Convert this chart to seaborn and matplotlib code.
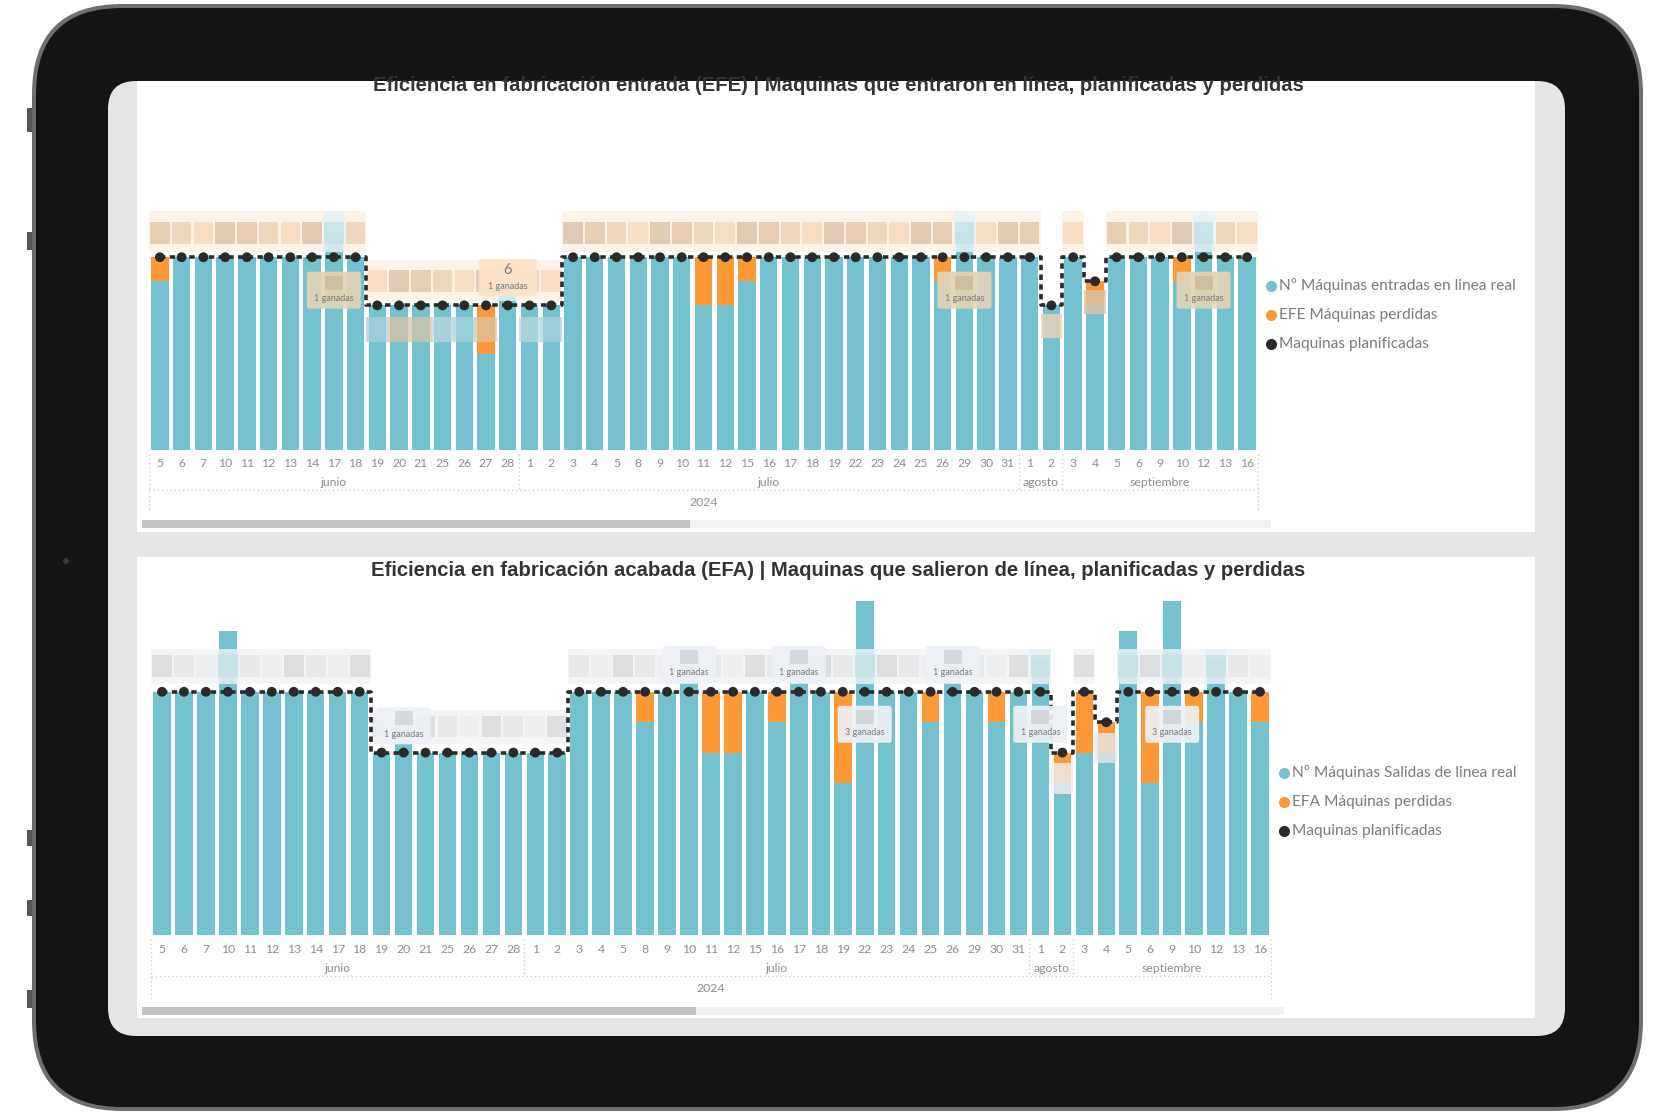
import numpy as np
import pandas as pd
import matplotlib
matplotlib.use("Agg")
import matplotlib.pyplot as plt
import seaborn as sns
from matplotlib.patches import FancyBboxPatch, Rectangle, Circle
from matplotlib.lines import Line2D
from matplotlib import transforms

# Datos
fechas = ["2024-06-05", "2024-06-06", "2024-06-07", "2024-06-10", "2024-06-11", "2024-06-12",
          "2024-06-13", "2024-06-14", "2024-06-17", "2024-06-18", "2024-06-19", "2024-06-20",
          "2024-06-21", "2024-06-25", "2024-06-26", "2024-06-27", "2024-06-28",
          "2024-07-01", "2024-07-02", "2024-07-03", "2024-07-04", "2024-07-05", "2024-07-08",
          "2024-07-09", "2024-07-10", "2024-07-11", "2024-07-12", "2024-07-15", "2024-07-16",
          "2024-07-17", "2024-07-18", "2024-07-19", "2024-07-22", "2024-07-23", "2024-07-24",
          "2024-07-25", "2024-07-26", "2024-07-29", "2024-07-30", "2024-07-31",
          "2024-08-01", "2024-08-02",
          "2024-09-03", "2024-09-04", "2024-09-05", "2024-09-06", "2024-09-09", "2024-09-10",
          "2024-09-12", "2024-09-13", "2024-09-16"]
meses_es = {6: "junio", 7: "julio", 8: "agosto", 9: "septiembre"}

planificadas_efe = [8, 8, 8, 8, 8, 8, 8, 8, 8, 8, 6, 6, 6, 6, 6, 6, 6,
                    6, 6, 8, 8, 8, 8, 8, 8, 8, 8, 8, 8, 8, 8, 8, 8, 8, 8, 8, 8, 8, 8, 8,
                    8, 6,
                    8, 7, 8, 8, 8, 8, 8, 8, 8]
reales_efe = [7, 8, 8, 8, 8, 8, 8, 8, 9, 8, 6, 6, 6, 6, 6, 4, 7,
              6, 6, 8, 8, 8, 8, 8, 8, 6, 6, 7, 8, 8, 8, 8, 8, 8, 8, 8, 7, 9, 8, 8,
              8, 6,
              8, 6, 8, 8, 8, 7, 9, 8, 8]

planificadas_efa = [8, 8, 8, 8, 8, 8, 8, 8, 8, 8, 6, 6, 6, 6, 6, 6, 6,
                    6, 6, 8, 8, 8, 8, 8, 8, 8, 8, 8, 8, 8, 8, 8, 8, 8, 8, 8, 8, 8, 8, 8,
                    8, 6,
                    8, 7, 8, 8, 8, 8, 8, 8, 8]
reales_efa = [8, 8, 8, 10, 8, 8, 8, 8, 8, 8, 6, 7, 6, 6, 6, 6, 6,
              6, 6, 8, 8, 8, 7, 8, 9, 6, 6, 8, 7, 9, 8, 5, 11, 8, 8, 7, 9, 8, 7, 8,
              9, 5,
              6, 6, 10, 5, 11, 7, 9, 8, 7]

# etiquetas visibles de "ganadas": (indice, valor visible, texto, posicion respecto a lo planificado)
ganadas_efe = [(8, None, "1 ganadas", -1.72), (16, "6", "1 ganadas", 0.8),
               (37, None, "1 ganadas", -1.72), (48, None, "1 ganadas", -1.72)]
ganadas_efa = [(11, None, "1 ganadas", 0.6), (24, None, "1 ganadas", 0.62),
               (29, None, "1 ganadas", 0.62), (36, None, "1 ganadas", 0.62),
               (40, None, "1 ganadas", -1.35), (32, None, "3 ganadas", -1.35),
               (46, None, "3 ganadas", -1.35)]

titulo_efe = "Eficiencia en fabricación entrada (EFE) | Maquinas que entraron en línea, planificadas y perdidas"
titulo_efa = "Eficiencia en fabricación acabada (EFA) | Maquinas que salieron de línea, planificadas y perdidas"
leyenda_efe = ["Nº Máquinas entradas en linea real", "EFE Máquinas perdidas", "Maquinas planificadas"]
leyenda_efa = ["Nº Máquinas Salidas de linea real", "EFA Máquinas perdidas", "Maquinas planificadas"]

TURQUESA = "#74c1cf"
NARANJA = "#fd9836"
NEGRO = "#2a2a2a"
GRIS_TXT = "#8c8c8c"

sns.set_style("white")
plt.rcParams["font.family"] = ["Lato", "DejaVu Sans"]

W, H = 1670, 1115
fig = plt.figure(figsize=(W / 100, H / 100), dpi=100)
fig.patch.set_facecolor("white")


def fx(px):
    return px / W


def fy(py):
    return 1 - py / H


def rrect(x0, y0, x1, y1, r, color, z):
    p = FancyBboxPatch((x0 / 100, (H - y1) / 100), (x1 - x0) / 100, (y1 - y0) / 100,
                       boxstyle=f"round,pad=0,rounding_size={r / 100}",
                       transform=fig.dpi_scale_trans, fc=color, ec="none", zorder=z)
    fig.add_artist(p)
    return p


def rect(x0, y0, x1, y1, color, z):
    p = Rectangle((fx(x0), fy(y1)), fx(x1) - fx(x0), fy(y0) - fy(y1),
                  transform=fig.transFigure, fc=color, ec="none", zorder=z)
    fig.add_artist(p)
    return p


# marco de la tablet
for y0, y1 in [(108, 132), (232, 250), (830, 846), (900, 916), (990, 1008)]:
    rect(27, y0, 34, y1, "#555555", -11)
rrect(32, 4, 1643, 1111, 90, "#6e6e6e", -10)
rrect(36, 8, 1639, 1107, 86, "#141414", -9)
pantalla = rrect(108, 81, 1565, 1036, 28, "#e5e5e5", -8)
fig.add_artist(Circle((66 / 100, (H - 561) / 100), 0.03, transform=fig.dpi_scale_trans,
                      fc="#3a3a3a", ec="none", zorder=-7))
rect(137, 81, 1535, 532, "white", -7)
rect(137, 557, 1535, 1018, "white", -7)

# barras de desplazamiento
rect(142, 520, 1271, 528, "#f2f2f2", -6)
rect(142, 520, 690, 528, "#c3c3c3", -5)
rect(142, 1007, 1284, 1015, "#f2f2f2", -6)
rect(142, 1007, 696, 1015, "#c3c3c3", -5)

t = fig.text(fx(838), fy(91), titulo_efe, ha="center", va="baseline", fontsize=14.6,
             fontweight="bold", family="Liberation Sans", color="#333333")
t.set_clip_path(pantalla)
fig.text(fx(838), fy(576), titulo_efa, ha="center", va="baseline", fontsize=14.6,
         fontweight="bold", family="Liberation Sans", color="#333333")


def grafico(caja, unidad, ylim_top, reales, planif, ganadas, leyenda_txt, leyenda_xy, banda,
            filas, tonos, caja_ganadas, internas):
    x0, x1, bottom = caja
    top = bottom - ylim_top * unidad
    ax = fig.add_axes([fx(x0), fy(bottom), fx(x1) - fx(x0), fy(top) - fy(bottom)])
    ax.set_facecolor("none")
    n = len(reales)
    slot = (x1 - x0) / n
    reales = np.array(reales)
    planif = np.array(planif)
    perdidas = np.clip(planif - reales, 0, None)
    df = pd.DataFrame({"pos": np.arange(n), "real": reales, "total": reales + perdidas})

    sns.barplot(data=df, x="pos", y="total", color=NARANJA, saturation=1, width=0.8,
                errorbar=None, linewidth=0, zorder=2, ax=ax)
    sns.barplot(data=df, x="pos", y="real", color=TURQUESA, saturation=1, width=0.8,
                errorbar=None, linewidth=0, zorder=2, ax=ax)

    # etiquetas de datos pixeladas (difuminadas en el original)
    o0, o1, i0, i1 = banda
    for i in range(n):
        prev_p = planif[i - 1] if i > 0 else planif[i]
        next_p = planif[i + 1] if i < n - 1 else planif[i]
        if planif[i] < prev_p and planif[i] < next_p:
            c_in = tonos[1 + i % (len(tonos) - 1)]
            ax.add_patch(Rectangle((i - 0.5, planif[i] - 1.35), 1, 1.0, fc=c_in, ec="none",
                                   alpha=0.8, zorder=3))
            continue
        if reales[i] > planif[i]:
            c_out, c_in = "#e4f1f4", "#c7e2e7"
        else:
            c_out, c_in = tonos[0], tonos[1 + i % (len(tonos) - 1)]
        ax.add_patch(Rectangle((i - 0.5, planif[i] + o0), 1, o1 - o0, fc=c_out, ec="none",
                               alpha=0.85, zorder=3))
        ax.add_patch(Rectangle((i - 0.45, planif[i] + i0), 0.9, i1 - i0, fc=c_in, ec="none",
                               alpha=0.85, zorder=3))
        if internas and planif[i] < 8 and reales[i] <= planif[i]:
            c_b = ["#d9c6a9", "#bcd9de", "#a9d3db", "#dcc3a3"][i % 4]
            ax.add_patch(Rectangle((i - 0.5, planif[i] - 1.5), 1, 1.0, fc=c_b, ec="none",
                                   alpha=0.75, zorder=3))

    pos = np.arange(n)
    ax.plot(pos, planif, drawstyle="steps-mid", color=NEGRO, lw=2.6,
            ls=(0, (1.5, 1.2)), zorder=4)
    sns.scatterplot(x=pos, y=planif, color=NEGRO, s=50, edgecolor="none", zorder=5,
                    legend=False, ax=ax)

    # cajas de "ganadas"
    fc_caja, fc_bloque = caja_ganadas
    for idx, valor, texto, dy in ganadas:
        yt = planif[idx] + dy
        fc = "#fde2c6" if valor else fc_caja
        ancho = 58 if valor else 54
        ax.add_patch(FancyBboxPatch((idx - ancho / 2 / slot, yt - 10 / unidad), ancho / slot,
                                    37 / unidad, boxstyle="round,pad=0,rounding_size=0.12",
                                    mutation_aspect=slot / unidad,
                                    fc=fc, ec="none", alpha=0.92, zorder=6))
        if valor:
            ax.text(idx, yt + 16 / unidad, valor, ha="center", va="center", fontsize=10.5,
                    color="#7a7a7a", zorder=7)
        else:
            ax.add_patch(Rectangle((idx - 9 / slot, yt + 9 / unidad), 18 / slot, 14 / unidad,
                                   fc=fc_bloque, ec="none", alpha=0.8, zorder=7))
        ax.text(idx, yt, texto, ha="center", va="center", fontsize=6.5, color="#7a7a7a",
                zorder=7)

    ax.set_xlim(-0.5, n - 0.5)
    ax.set_ylim(0, ylim_top)
    ax.set_yticks([])
    ax.set_ylabel("")
    ax.set_xlabel("")
    sns.despine(ax=ax, left=True, bottom=True)

    fechas_dt = pd.to_datetime(pd.Series(fechas))
    ax.set_xticks(pos)
    ax.set_xticklabels([str(d.day) for d in fechas_dt])
    ax.tick_params(axis="x", length=0, pad=filas[0], labelsize=8.8, labelcolor=GRIS_TXT)

    tr = transforms.blended_transform_factory(ax.transData, fig.transFigure)
    y_mes, y_linea, y_fin, y_anio = filas[1:]
    meses = fechas_dt.dt.month.values
    limites = [-0.5]
    for m in pd.unique(meses):
        ids = np.where(meses == m)[0]
        ax.text(ids.mean(), fy(y_mes), meses_es[m], transform=tr, ha="center",
                va="center", fontsize=8.8, color=GRIS_TXT)
        limites.append(ids[-1] + 0.5)
    for k, xb in enumerate(limites):
        extremo = k == 0 or k == len(limites) - 1
        ax.add_line(Line2D([xb, xb], [fy(bottom + 4), fy(y_fin if extremo else y_linea)],
                           transform=tr, color="#cfcfcf", lw=1, ls=(0, (1, 2)),
                           clip_on=False))
    ax.add_line(Line2D([-0.5, n - 0.5], [fy(y_linea), fy(y_linea)], transform=tr,
                       color="#cfcfcf", lw=1, ls=(0, (1, 2)), clip_on=False))
    ax.text((n - 1) / 2, fy(y_anio), "2024", transform=tr, ha="center", va="center",
            fontsize=8.8, color=GRIS_TXT)

    # leyenda
    lx, ly = leyenda_xy
    for k, (col, txt) in enumerate(zip([TURQUESA, NARANJA, NEGRO], leyenda_txt)):
        yy = ly + 29 * k
        fig.add_artist(Line2D([fx(lx)], [fy(yy)], marker="o", ms=7, color=col, lw=0,
                              transform=fig.transFigure))
        fig.text(fx(lx + 8), fy(yy), txt, ha="left", va="center", fontsize=11.2,
                 color="#7b7b7b")
    return ax


grafico((149, 1258, 450), 24.1, 14.5, reales_efe, planificadas_efe, ganadas_efe, leyenda_efe,
        (1271, 286), (0.2, 1.9, 0.55, 1.45), (6, 482, 490, 512, 503),
        ["#fff1e3", "#e3c8aa", "#edd3b6", "#f6dabd", "#ddc5ab"],
        ("#e2d4b8", "#cdbb9c"), True)
grafico((151, 1271, 935), 30.4, 11.25, reales_efa, planificadas_efa, ganadas_efa, leyenda_efa,
        (1284, 773), (0.27, 1.4, 0.5, 1.2), (6.5, 968, 976, 999, 989),
        ["#f3f4f6", "#d9dadd", "#e6e7ea", "#eeeff1"],
        ("#eef1f5", "#cfd2d6"), False)

fig.savefig("out.png", dpi=100)
